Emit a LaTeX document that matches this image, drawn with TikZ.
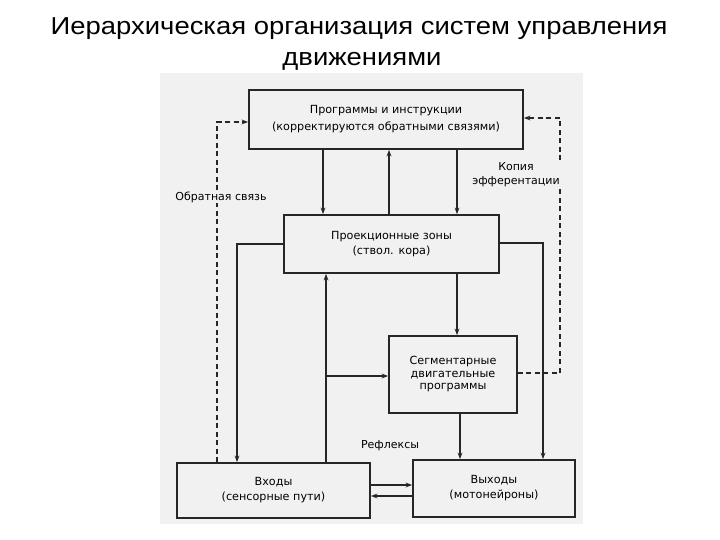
\documentclass[tikz,border=0pt]{standalone}
\usepackage{fontspec}
\setmainfont{Liberation Sans}
\newfontfamily\diafont{DejaVu Sans}
\usetikzlibrary{arrows.meta}
\begin{document}
\begin{tikzpicture}[x=1pt,y=-1pt,
  box/.style={draw=black!85, line width=1.8pt, inner sep=0pt, align=center,
    font=\diafont\fontsize{11.2}{17}\selectfont},
  conn/.style={draw=black!85, line width=1.1pt},
  arr/.style={conn, -{Stealth[length=6.5pt,width=4.8pt]}},
  darr/.style={arr, dashed, dash pattern=on 5pt off 3.5pt},
  ttl/.style={font=\fontsize{24.5}{31}\selectfont, anchor=base, xscale=1.12},
  lbl/.style={font=\diafont\fontsize{11}{14}\selectfont, align=center, fill=gray!11, inner sep=1pt}]
\useasboundingbox (0,0) rectangle (720,540);
\fill[white] (0,0) rectangle (720,540);
% scanned page background
\fill[gray!11] (160,73) rectangle (583,524);
% title
\node[ttl] (title1) at (359,35) {Иерархическая организация систем управления};
\node[ttl] (title2) at (362,66) {движениями};
% boxes
\node[box, minimum width=274pt, minimum height=59pt] (top) at (386,119.5)
  {Программы и инструкции\\(корректируются обратными связями)};
\node[box, minimum width=215pt, minimum height=58pt, font=\diafont\fontsize{11.2}{15}\selectfont] (proj) at (391.5,244)
  {Проекционные зоны\\(ствол. кора)};
\node[box, minimum width=128pt, minimum height=77pt, font=\diafont\fontsize{11.2}{12.5}\selectfont] (seg) at (453,374.5)
  {Сегментарные\\двигательные\\программы};
\node[box, minimum width=193pt, minimum height=55pt, font=\diafont\fontsize{11.2}{15}\selectfont] (inp) at (273.5,490.5)
  {Входы\\(сенсорные пути)};
\node[box, minimum width=162pt, minimum height=57pt, font=\diafont\fontsize{11.2}{15}\selectfont] (out) at (494,488.5)
  {Выходы\\(мотонейроны)};
% helper coordinates
\coordinate (xa) at (323,0);
\coordinate (xb) at (389,0);
\coordinate (xc) at (457,0);
\coordinate (xl) at (237,244);
\coordinate (xr) at (543,243);
\coordinate (xi) at (326,0);
\coordinate (yi) at (0,376);
\coordinate (xs) at (460,0);
\coordinate (dl) at (217,122);
\coordinate (dr) at (560,118);
\coordinate (dry) at (0,373);
\coordinate (y1) at (0,485);
\coordinate (y2) at (0,496);
% top <-> projection
\draw[arr] (top.south -| xa) -- (proj.north -| xa);
\draw[arr] (proj.north -| xb) -- (top.south -| xb);
\draw[arr] (top.south -| xc) -- (proj.north -| xc);
% projection -> inputs / outputs
\draw[arr] (proj.west |- xl) -- (xl) -- (inp.north -| xl);
\draw[arr] (proj.east |- xr) -- (xr) -- (out.north -| xr);
% projection -> segmental
\draw[arr] (proj.south -| xc) -- (seg.north -| xc);
% inputs -> projection, branch -> segmental
\draw[arr] (inp.north -| xi) -- (proj.south -| xi);
\draw[arr] (xi |- yi) -- (seg.west |- yi);
% segmental -> outputs
\draw[arr] (seg.south -| xs) -- (out.north -| xs);
% inputs <-> outputs
\draw[arr] (inp.east |- y1) -- (out.west |- y1);
\draw[arr] (out.west |- y2) -- (inp.east |- y2);
% dashed feedback loops
\draw[darr] (inp.north -| dl) -- (dl) -- (top.west |- dl);
\draw[darr] (seg.east |- dry) -- (dr |- dry) -- (dr) -- (top.east |- dr);
% labels
\node[lbl] (fb) at (221,197) {Обратная связь};
\node[lbl] (eff) at (516,175) {Копия\\эфферентации};
\node[lbl, fill=none] (refl) at (390,446) {Рефлексы};
\end{tikzpicture}
\end{document}
